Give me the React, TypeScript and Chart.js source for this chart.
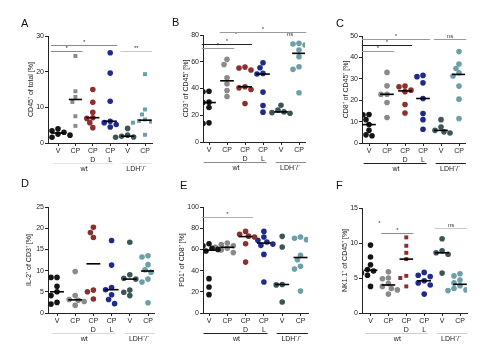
import React, { useEffect, useRef } from 'react';
import { Chart, registerables } from 'chart.js';

Chart.register(...registerables);

// ---------- shared labels ----------
const CATEGORY_LABELS: string[][] = [['V'], ['CP'], ['CP', 'D'], ['CP', 'L'], ['V'], ['CP']];
const GROUP_LABELS = ['wt', 'LDH⁻/⁻'];
const GROUP_SPANS = [[-0.3, 3.2], [3.7, 5.4]];
const SERIES_COLORS = ['#151515', '#8a8a8a', '#8e2f2f', '#1e2b8c', '#3c5658', '#6c9fa7'];

// ---------- Panel A ----------
const A_TITLE = 'CD45⁺ of total [%]';
const A_Y_TICKS = [0, 10, 20, 30];
const A_V_WT = [4.0, 3.4, 3.0, 2.8, 2.5, 2.2, 1.6];
const A_CP_WT = [24.4, 14.5, 12.9, 11.5, 7.5, 4.8];
const A_CPD_WT = [15.0, 11.4, 8.6, 7.1, 6.9, 5.7, 4.3];
const A_CPL_WT = [25.3, 19.6, 11.7, 6.1, 5.7, 5.2, 4.5];
const A_V_LDH = [4.1, 2.2, 1.9, 1.7, 1.6];
const A_CP_LDH = [19.3, 9.4, 8.0, 6.6, 6.2, 6.0, 5.7, 2.3];
const A_SIG: [number, number, number, string][] = [[0, 1, 25.8, '*'], [0, 3, 27.6, '*'], [4, 5, 25.8, '**']];

// ---------- Panel B ----------
const B_TITLE = 'CD3⁺ of CD45⁺ [%]';
const B_Y_TICKS = [0, 20, 40, 60, 80];
const B_V_WT = [38, 37.5, 29.8, 29.5, 25.8, 14.3, 13.8];
const B_CP_WT = [61.8, 58, 48, 43.5, 38.5, 34];
const B_CPD_WT = [56, 55.3, 53.8, 41.3, 40.5, 39.3, 28.8];
const B_CPL_WT = [59.3, 55.5, 51.3, 50.8, 37.3, 27.3, 22.3];
const B_V_LDH = [27.5, 23.8, 22.5, 22, 21.5];
const B_CP_LDH = [73.8, 73.3, 72.5, 68.8, 63.8, 56.3, 54.3, 36.8];
const B_SIG: [number, number, number, string][] = [[0, 1, 70, '*'], [0, 2, 73.3, '*'], [1, 2, 78.5, '*'], [4, 5, 78.5, 'ns'], [1, 5, 82.2, '*']];

// ---------- Panel C ----------
const C_TITLE = 'CD8⁺ of CD45⁺ [%]';
const C_Y_TICKS = [0, 10, 20, 30, 40, 50];
const C_V_WT = [13.3, 13.2, 10.9, 8.6, 5.9, 3.8, 3.4];
const C_CP_WT = [33, 26.7, 22.8, 22.7, 18.9, 11.9];
const C_CPD_WT = [26.6, 26.3, 24.7, 24, 18, 14];
const C_CPL_WT = [31.6, 31, 28.1, 20.8, 13.8, 10.9, 6.4];
const C_V_LDH = [10.9, 7.5, 5.9, 5.2, 4.7];
const C_CP_LDH = [42.7, 36.9, 34.8, 32.8, 31.3, 26.6, 20.5, 11.4];
const C_SIG: [number, number, number, string][] = [[0, 1, 43, '*'], [0, 2, 45.8, '*'], [0, 3, 48.4, '*'], [4, 5, 48.4, 'ns']];

// ---------- Panel D ----------
const D_TITLE = 'IL-2⁺ of CD3⁺ [%]';
const D_Y_TICKS = [0, 5, 10, 15, 20, 25];
const D_V_WT = [8.4, 8.4, 6.3, 5.0, 4.1, 2.5, 2.1];
const D_CP_WT = [9.8, 4.1, 3.2, 3.0, 2.7, 1.8];
const D_CPD_WT = [20.2, 19.0, 17.8, 5.4, 5.0, 3.3];
const D_CPL_WT = [17.1, 11.3, 6.0, 5.5, 4.3, 3.2, 2.2];
const D_V_LDH = [16.7, 9.0, 8.2, 8.0, 5.4, 4.9, 4.1];
const D_CP_LDH = [13.5, 13.2, 11.4, 10.2, 9.6, 8.0, 7.3, 2.4];
const D_SIG: [number, number, number, string][] = [];

// ---------- Panel E ----------
const E_TITLE = 'PD1⁺ of CD8⁺ [%]';
const E_Y_TICKS = [0, 20, 40, 60, 80, 100];
const E_V_WT = [65.4, 63.5, 61, 60, 58.5, 32.4, 24.5, 17.3];
const E_CP_WT = [66, 64.5, 63.5, 62, 61, 59.5, 57];
const E_CPD_WT = [77, 74.2, 72.5, 71.7, 65.4, 48];
const E_CPL_WT = [77, 71.7, 68.6, 67, 65, 63.8, 55.3, 29.2];
const E_V_LDH = [72.3, 62.3, 26.9, 26.5, 10.4];
const E_CP_LDH = [71.7, 70.5, 69.2, 54.4, 50.3, 44, 41.5, 20.8];
const E_SIG: [number, number, number, string][] = [[0, 2, 90.6, '*']];

// ---------- Panel F ----------
const F_TITLE = 'NK1.1⁺ of CD45⁺ [%]';
const F_Y_TICKS = [0, 5, 10, 15];
const F_V_WT = [9.7, 8.0, 6.9, 6.2, 6.0, 5.7, 5.4, 3.8];
const F_CP_WT = [5.9, 5.0, 4.9, 4.2, 3.8, 3.5, 3.3, 2.7];
const F_CPD_WT = [10.8, 9.6, 8.6, 7.7, 5.3, 5.0, 3.8];
const F_CPL_WT = [5.8, 5.4, 5.2, 4.6, 4.3, 4.0, 2.7];
const F_V_LDH = [10.6, 8.9, 8.6, 8.4, 5.7];
const F_CP_LDH = [5.6, 5.3, 4.7, 4.3, 3.9, 3.5, 3.3, 3.2];
const F_SIG: [number, number, number, string][] = [[0, 1, 12.4, '*'], [1, 2, 11.45, '*'], [4, 5, 12.2, 'ns']];

// ---------- layout (page pixels) ----------
type Layout = {
  l: number; r: number; t: number; b: number; x0: number; sp: number;
  titleOff: number; letterX: number; letterY: number;
  groupLine: string; sigColors: string[]; squares: number[];
};

const PANELS = [
  { letter: 'A', title: A_TITLE, ticks: A_Y_TICKS, series: [A_V_WT, A_CP_WT, A_CPD_WT, A_CPL_WT, A_V_LDH, A_CP_LDH], sig: A_SIG,
    lay: { l: 48, r: 152, t: 36, b: 143, x0: 58, sp: 17.4, titleOff: 17, letterX: 21, letterY: 27, groupLine: '#e4e4e4', sigColors: ['#8a8a8a', '#8a8a8a', '#c8c8c8'], squares: [1, 5] } as Layout },
  { letter: 'B', title: B_TITLE, ticks: B_Y_TICKS, series: [B_V_WT, B_CP_WT, B_CPD_WT, B_CPL_WT, B_V_LDH, B_CP_LDH], sig: B_SIG,
    lay: { l: 203, r: 305, t: 35, b: 142, x0: 209, sp: 18, titleOff: 17, letterX: 172, letterY: 26, groupLine: '#8a8a8a', sigColors: ['#9a9a9a', '#222', 'rgba(0,0,0,0)', 'rgba(0,0,0,0)', '#9a9a9a'], squares: [] } as Layout },
  { letter: 'C', title: C_TITLE, ticks: C_Y_TICKS, series: [C_V_WT, C_CP_WT, C_CPD_WT, C_CPL_WT, C_V_LDH, C_CP_LDH], sig: C_SIG,
    lay: { l: 362, r: 465, t: 36, b: 143, x0: 369, sp: 18, titleOff: 16, letterX: 336, letterY: 27, groupLine: '#222', sigColors: ['#9a9a9a', '#222', '#9a9a9a', '#9a9a9a'], squares: [] } as Layout },
  { letter: 'D', title: D_TITLE, ticks: D_Y_TICKS, series: [D_V_WT, D_CP_WT, D_CPD_WT, D_CPL_WT, D_V_LDH, D_CP_LDH], sig: D_SIG,
    lay: { l: 48, r: 154, t: 207, b: 313, x0: 57, sp: 18.2, titleOff: 19, letterX: 21, letterY: 187, groupLine: '#d8d8d8', sigColors: [], squares: [] } as Layout },
  { letter: 'E', title: E_TITLE, ticks: E_Y_TICKS, series: [E_V_WT, E_CP_WT, E_CPD_WT, E_CPL_WT, E_V_LDH, E_CP_LDH], sig: E_SIG,
    lay: { l: 203, r: 308, t: 207, b: 313, x0: 209, sp: 18.3, titleOff: 21, letterX: 180, letterY: 189, groupLine: '#222', sigColors: ['#b0b0b0'], squares: [] } as Layout },
  { letter: 'F', title: F_TITLE, ticks: F_Y_TICKS, series: [F_V_WT, F_CP_WT, F_CPD_WT, F_CPL_WT, F_V_LDH, F_CP_LDH], sig: F_SIG,
    lay: { l: 362, r: 467, t: 208, b: 313, x0: 370.5, sp: 17.9, titleOff: 17, letterX: 336, letterY: 189, groupLine: '#d0d0d0', sigColors: ['rgba(0,0,0,0)', '#8a8a8a', '#c8c8c8'], squares: [2] } as Layout },
];

const FONT = '"Liberation Sans", Arial, Helvetica, sans-serif';
const X_AXIS_H = 34;
const TOP_ROOM = 34;
const RIGHT_ROOM = 10;
const LEFT_ROOM = 45;
const DOT_R = 2.8;

function median(values: number[]): number {
  const s = [...values].sort((a, b) => a - b);
  const m = Math.floor(s.length / 2);
  return s.length % 2 ? s[m] : (s[m - 1] + s[m]) / 2;
}

function swarm(values: number[], cat: number, pxPerUnit: number, pxPerCat: number) {
  const placed: { dx: number; y: number }[] = [];
  const cands = [0, -3, 3, -6, 6, -9, 9, -12, 12];
  return values.map((v) => {
    const y = v * pxPerUnit;
    let dx = cands[cands.length - 1];
    for (const c of cands) {
      if (placed.every((p) => Math.hypot(p.dx - c, p.y - y) >= DOT_R * 2 - 0.4)) { dx = c; break; }
    }
    placed.push({ dx, y });
    return { x: cat + dx / pxPerCat, y: v };
  });
}

function Panel({ panel }: { panel: typeof PANELS[number] }) {
  const ref = useRef<HTMLCanvasElement | null>(null);
  const lay = panel.lay;
  const cLeft = Math.max(0, lay.l - LEFT_ROOM);
  const cTop = lay.t - TOP_ROOM;
  const cW = lay.r + RIGHT_ROOM - cLeft;
  const cH = lay.b + X_AXIS_H - cTop;

  useEffect(() => {
    if (!ref.current) return;
    const yMax = panel.ticks[panel.ticks.length - 1];
    const yStep = panel.ticks[1] - panel.ticks[0];
    const xMin = (lay.l - lay.x0) / lay.sp;
    const xMax = (lay.r - lay.x0) / lay.sp;
    const pxPerUnit = (lay.b - lay.t) / yMax;
    const yWidth = lay.titleOff + 4.2;

    const medians = panel.series.map((vals, i) => ({
      type: 'line' as const,
      data: [{ x: i - 0.38, y: median(vals) }, { x: i + 0.38, y: median(vals) }],
      borderColor: '#000',
      borderWidth: 1.6,
      pointRadius: 0,
      showLine: true,
    }));
    const points = panel.series.map((vals, i) => ({
      type: 'scatter' as const,
      data: swarm(vals, i, pxPerUnit, lay.sp),
      pointRadius: DOT_R,
      pointStyle: lay.squares.includes(i) ? 'rect' : 'circle',
      backgroundColor: SERIES_COLORS[i],
      borderColor: SERIES_COLORS[i],
      borderWidth: 0,
    }));

    const decor = {
      id: 'decor' + panel.letter,
      afterDraw(chart: any) {
        const ctx = chart.ctx;
        const xs = chart.scales.x;
        const ys = chart.scales.y;
        ctx.save();
        // panel letter
        ctx.fillStyle = '#111';
        ctx.font = `11px ${FONT}`;
        ctx.textAlign = 'left';
        ctx.textBaseline = 'alphabetic';
        ctx.fillText(panel.letter, lay.letterX - cLeft, lay.letterY - cTop);
        // group lines + labels
        const bottom = chart.chartArea.bottom;
        GROUP_SPANS.forEach((span, gi) => {
          const x1 = xs.getPixelForValue(span[0]);
          const x2 = xs.getPixelForValue(Math.min(span[1], xMax + 0.05));
          ctx.strokeStyle = lay.groupLine;
          ctx.lineWidth = 1;
          ctx.beginPath();
          ctx.moveTo(x1, bottom + 20.5);
          ctx.lineTo(x2, bottom + 20.5);
          ctx.stroke();
          ctx.fillStyle = '#222';
          ctx.font = `7px ${FONT}`;
          ctx.textAlign = 'center';
          ctx.textBaseline = 'middle';
          const mid = gi === 0 ? 1.5 : 4.5;
          ctx.fillText(GROUP_LABELS[gi], xs.getPixelForValue(mid), bottom + 26.5);
        });
        // significance bars
        panel.sig.forEach(([a, b, yv, label], si) => {
          const col = lay.sigColors[si] || '#9a9a9a';
          const x1 = xs.getPixelForValue(a - 0.4);
          const x2 = xs.getPixelForValue(b + 0.4);
          const y = Math.round(ys.getPixelForValue(yv)) + 0.5;
          ctx.strokeStyle = col;
          ctx.lineWidth = 1;
          ctx.beginPath();
          ctx.moveTo(x1, y);
          ctx.lineTo(x2, y);
          ctx.stroke();
          ctx.fillStyle = '#333';
          ctx.font = `6px ${FONT}`;
          ctx.textAlign = 'center';
          ctx.textBaseline = 'alphabetic';
          ctx.fillText(label, (x1 + x2) / 2, y - 1.5);
        });
        ctx.restore();
      },
    };

    const chart = new Chart(ref.current, {
      type: 'scatter',
      data: { datasets: [...medians, ...points] as any },
      options: {
        animation: false,
        responsive: false,
        maintainAspectRatio: false,
        events: [],
        layout: { padding: { left: lay.l - yWidth - cLeft, top: lay.t - cTop, right: cW + cLeft - lay.r, bottom: 0 } },
        plugins: { legend: { display: false }, tooltip: { enabled: false } },
        scales: {
          x: {
            type: 'linear',
            min: xMin,
            max: xMax,
            afterBuildTicks: (s: any) => { s.ticks = CATEGORY_LABELS.map((_, i) => ({ value: i })); },
            afterFit: (s: any) => { s.height = X_AXIS_H; },
            ticks: {
              callback: (v: any) => CATEGORY_LABELS[Math.round(Number(v))] || '',
              font: { size: 7, family: FONT, lineHeight: 1.2 },
              color: '#222',
              padding: 1,
              autoSkip: false,
              maxRotation: 0,
              minRotation: 0,
            },
            grid: { drawOnChartArea: false, drawTicks: true, tickLength: 3, color: '#222' },
            border: { color: '#222', width: 1 },
          },
          y: {
            type: 'linear',
            min: 0,
            max: yMax,
            afterBuildTicks: (s: any) => { s.ticks = panel.ticks.map((v) => ({ value: v })); },
            afterFit: (s: any) => { s.width = yWidth; },
            ticks: { stepSize: yStep, font: { size: 7, family: FONT }, color: '#222', padding: 1 },
            title: { display: true, text: panel.title, font: { size: 7, family: FONT, lineHeight: 1.2 }, color: '#222', padding: 0 },
            grid: { drawOnChartArea: false, drawTicks: true, tickLength: 3, color: '#222' },
            border: { color: '#222', width: 1 },
          },
        },
      } as any,
      plugins: [decor],
    });
    return () => chart.destroy();
  }, []);

  return (
    <canvas
      ref={ref}
      width={cW}
      height={cH}
      style={{ position: 'absolute', left: cLeft, top: cTop, width: cW, height: cH }}
    />
  );
}

export default function App() {
  return (
    <div style={{ position: 'absolute', left: 0, top: 0, width: 500, height: 358, background: '#fff', overflow: 'hidden' }}>
      {PANELS.map((p) => (
        <Panel key={p.letter} panel={p} />
      ))}
    </div>
  );
}
